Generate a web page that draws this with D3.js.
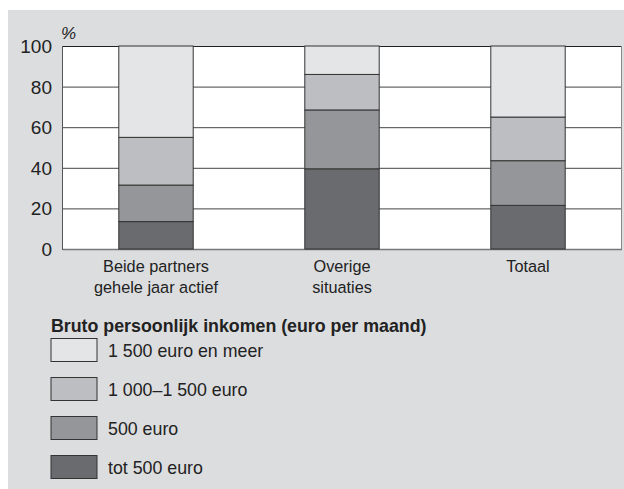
<!DOCTYPE html>
<html>
<head>
<meta charset="utf-8">
<script src="https://cdn.jsdelivr.net/npm/d3@7"></script>
<style>
  body { margin: 0; background: #fff; }
  text { font-family: "Liberation Sans", Arial, sans-serif; fill: #222; }
</style>
</head>
<body>
<script>
// categories and series (percent shares, bottom to top)
var categories = ["Beide partners|gehele jaar actief", "Overige|situaties", "Totaal"];
var seriesNames = ["tot 500 euro", "500 euro", "1 000\u20131 500 euro", "1 500 euro en meer"];
var tot500 = [13.5, 39.5, 21.5];
var euro500 = [18, 29, 22];
var euro1000 = [23.5, 17.5, 21.5];
var euro1500 = [45, 14, 35];
var yTicks = [0, 20, 40, 60, 80, 100];
var colors = ["#6a6b6f", "#959699", "#bdbec2", "#e4e5e7"];

var w = 624, h = 489;
var svg = d3.select("body").append("svg").attr("width", w).attr("height", h);

// grey panel
svg.append("rect").attr("x", 8).attr("y", 10).attr("width", w - 8).attr("height", h - 10)
  .attr("fill", "#dcdddf");

var pLeft = 63, pRight = 621, pTop = 46, pBottom = 249;

var x = d3.scaleBand().domain(categories).range([pLeft, pRight])
  .paddingInner(0.6).paddingOuter(0.3);
var y = d3.scaleLinear().domain([0, 100]).range([pBottom, pTop]);

// plot background
svg.append("rect").attr("x", pLeft).attr("y", pTop).attr("width", pRight - pLeft).attr("height", pBottom - pTop)
  .attr("fill", "#fff");

// gridlines
svg.append("g").selectAll("line").data(yTicks.filter(function (d) { return d > 0; }))
  .enter().append("line")
  .attr("x1", pLeft).attr("x2", pRight)
  .attr("y1", function (d) { return y(d) + 0.5; }).attr("y2", function (d) { return y(d) + 0.5; })
  .attr("stroke", function (d) { return d == 100 ? "#222" : "#444"; })
  .attr("stroke-width", 1);

// right border + axis lines
svg.append("line").attr("x1", pRight + 0.5).attr("x2", pRight + 0.5).attr("y1", pTop).attr("y2", pBottom)
  .attr("stroke", "#888");
svg.append("line").attr("x1", pLeft - 0.5).attr("x2", pLeft - 0.5).attr("y1", pTop).attr("y2", pBottom + 1)
  .attr("stroke", "#555");
svg.append("line").attr("x1", pLeft).attr("x2", pRight + 1).attr("y1", pBottom + 0.5).attr("y2", pBottom + 0.5)
  .attr("stroke", "#777").attr("stroke-width", 1.5);

// stack
var table = categories.map(function (c, i) {
  return { cat: c, s0: tot500[i], s1: euro500[i], s2: euro1000[i], s3: euro1500[i] };
});
var stack = d3.stack().keys(["s0", "s1", "s2", "s3"])(table);

svg.append("g").selectAll("g").data(stack).enter().append("g")
  .attr("fill", function (d, i) { return colors[i]; })
  .selectAll("rect").data(function (d) { return d; }).enter().append("rect")
  .attr("x", function (d) { return x(d.data.cat); })
  .attr("width", x.bandwidth())
  .attr("y", function (d) { return y(Math.min(d[1], 100)); })
  .attr("height", function (d) { return y(d[0]) - y(Math.min(d[1], 100)); })
  .attr("stroke", "#333").attr("stroke-width", 1);

// y tick labels
svg.append("g").selectAll("text").data(yTicks).enter().append("text")
  .attr("x", 52).attr("y", function (d) { return y(d) + 7; })
  .attr("text-anchor", "end").attr("font-size", 19)
  .text(function (d) { return d; });

svg.append("text").attr("x", 61).attr("y", 39).attr("font-size", 17).attr("font-style", "italic").text("%");

// category labels
var cl = svg.append("g").selectAll("text").data(categories).enter().append("text")
  .attr("text-anchor", "middle").attr("font-size", 16.3);
cl.selectAll("tspan").data(function (d) {
  return d.split("|").map(function (t) { return { t: t, c: d }; });
}).enter().append("tspan")
  .attr("x", function (d) { return x(d.c) + x.bandwidth() / 2; })
  .attr("y", function (d, i) { return 272 + i * 20.5; })
  .text(function (d) { return d.t; });

// legend
svg.append("text").attr("x", 51).attr("y", 332).attr("font-size", 17.8).attr("font-weight", "bold")
  .text("Bruto persoonlijk inkomen (euro per maand)");

var legendOrder = [3, 2, 1, 0];
var lg = svg.append("g").selectAll("g").data(legendOrder).enter().append("g")
  .attr("transform", function (d, i) { return "translate(51," + (338.5 + i * 39) + ")"; });
lg.append("rect").attr("width", 46).attr("height", 23)
  .attr("fill", function (d) { return colors[d]; }).attr("stroke", "#333");
lg.append("text").attr("x", 57).attr("y", 18.5).attr("font-size", 17.8)
  .text(function (d) { return seriesNames[d]; });
</script>
</body>
</html>
